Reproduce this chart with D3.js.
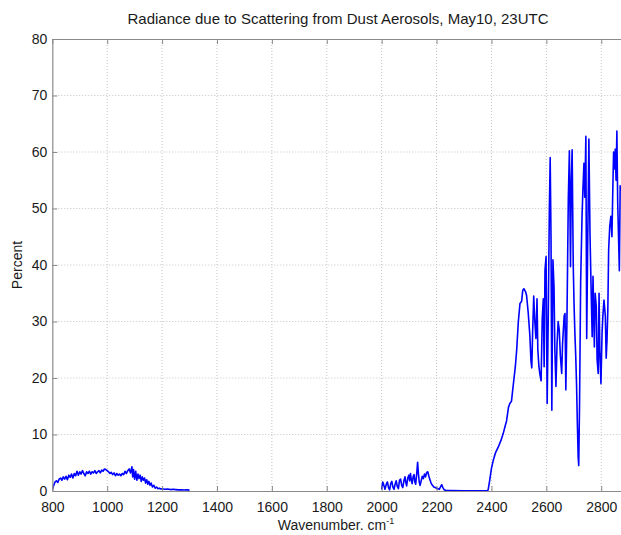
<!DOCTYPE html>
<html><head><meta charset="utf-8">
<script src="https://cdn.jsdelivr.net/npm/d3@7"></script>
<style>body{margin:0;background:#fff}svg{display:block}</style>
</head><body><svg id="chart" width="621" height="535"></svg>
<script>
const titleText = "Radiance due to Scattering from Dust Aerosols, May10, 23UTC";
const yLabel = "Percent";
const xTicks = [800,1000,1200,1400,1600,1800,2000,2200,2400,2600,2800];
const yTicks = [0,10,20,30,40,50,60,70,80];

// Long-wave window band (800-1300 cm-1)
const lwWN = [800,805,810,815,820,825,830,835,840,845,850,855,860,865,870,875,880,885,890,895,900,905,910,915,920,925,930,935,940,945,950,955,960,965,970,975,980,985,990,995,1000,1005,1010,1015,1020,1025,1030,1035,1040,1045,1050,1055,1060,1065,1070,1075,1080,1085,1090,1093,1096,1100,1104,1108,1112,1116,1120,1124,1128,1132,1136,1140,1144,1148,1152,1156,1160,1165,1170,1175,1180,1185,1190,1195,1200,1210,1220,1230,1240,1250,1260,1270,1280,1290,1300];
const lwPct = [0.2,1.0,1.6,1.8,1.5,2.1,2.3,1.9,2.5,2.1,2.6,2.0,2.8,2.4,3.0,2.3,3.1,2.7,3.5,2.8,3.4,3.0,3.6,3.1,2.7,3.4,3.1,3.5,3.0,3.4,3.2,3.6,3.1,3.4,3.6,3.2,3.7,3.5,3.9,3.8,3.6,3.4,3.1,3.3,2.9,3.2,2.7,3.1,2.8,3.0,2.7,3.1,2.9,3.5,3.1,3.6,3.9,3.2,4.3,2.5,3.8,2.1,3.5,1.9,3.0,2.2,2.8,1.7,2.5,1.9,2.3,1.4,2.0,1.2,1.7,1.0,1.4,0.7,1.0,0.5,0.7,0.4,0.5,0.35,0.4,0.3,0.35,0.25,0.3,0.25,0.2,0.22,0.18,0.2,0.15];

// Short-wave band (2000-2872 cm-1)
const swWN = [2000,2004,2008,2012,2017,2021,2025,2029,2033,2037,2041,2045,2049,2053,2057,2061,2065,2069,2073,2077,2081,2085,2088,2091,2095,2099,2102,2105,2108,2111,2115,2118,2121,2124,2128,2131,2134,2137,2140,2144,2148,2152,2156,2160,2164,2168,2172,2176,2180,2185,2190,2195,2200,2205,2210,2215,2219,2223,2228,2235,2250,2300,2350,2385,
  2388,2394,2400,2407,2415,2425,2435,2443,2450,2455,2462,2467,2473,2480,2487,2492,2498,2504,2510,2514,2518,2524,2528,2534,2540,2544,2547,2550,2554,2558,2562,2566,2569,2573,2577,2581,2585,2589,2592,2595,2599,2603,2607,2611,2614,2617,2620,2624,2628,2631,2635,2639,2643,2647,2651,2656,2659,2662,2665,2668,2671,2675,2680,2684,2688,2691,2694,2698,2701,2704,2707,2710,2713,2716,2718,2721,2725,2730,2733,2737,2740,2744,2747,2751,2755,2759,2763,2767,2770,2775,2778,2782,2785,2789,2792,2795,2799,2803,2806,2810,2815,2818,2821,2824,2827,2831,2835,2839,2842,2845,2848,2851,2854,2857,2860,2863,2866,2869,2872];
const swPct = [0.3,1.6,1.0,0.3,1.2,1.6,0.6,0.2,1.3,1.7,0.7,0.3,1.2,1.8,0.8,0.4,1.9,2.1,1.0,0.6,1.8,2.5,1.5,0.9,2.3,2.8,1.8,3.1,2.0,1.3,2.6,2.9,1.6,1.2,3.2,5.1,3.0,1.6,1.0,1.8,2.6,2.2,3.0,2.5,3.3,3.4,2.6,2.0,1.4,1.0,0.7,0.6,0.5,0.4,0.3,0.8,1.1,0.6,0.2,0.1,0.08,0.05,0.05,0.05,
  0.2,2.0,4.0,5.5,6.8,7.8,9.0,10.2,11.5,12.4,14.8,15.5,15.9,19,22,25,30,33.2,33.6,35.5,35.8,35.3,34.6,31.5,27.5,23,21.8,28,34.5,30,27,34,25,22,20.5,19.5,30.5,34,22,39,41.5,15.5,31,50,59,45,14.3,40.9,36,25,18.5,26,30,28.5,24,20.8,26,28.5,31,31.4,17.9,30,51.6,60.2,39.7,55,60.4,40,33,27.9,24,19,12,6,4.5,15.5,37,48.5,53,58,52,62.8,27,45,62.3,45.6,36,27.3,38,25.5,35,32.6,23.2,20.8,35,24.4,19,28,31,33.8,30.9,23.5,26.7,32,42.7,46.8,48.6,45,53,60,57,60.5,55,63.7,51,45,39,54,53];

const m = {left: 52.3, right: 621, top: 39, bottom: 491};
const svg = d3.select("#chart");
const x = d3.scaleLinear().domain([800, 2872]).range([m.left, m.right]);
const y = d3.scaleLinear().domain([0, 80]).range([m.bottom, m.top]);
const font = "'Liberation Sans', Arial, Helvetica, sans-serif";
const axisColor = "#8a8a8a";
const textColor = "#1a1a1a";

// grid
const grid = svg.append("g");
grid.selectAll("line.gx").data(xTicks.slice(1)).join("line")
  .attr("x1", d => x(d)).attr("x2", d => x(d))
  .attr("y1", m.top).attr("y2", m.bottom)
  .attr("stroke", "#c4c4c4").attr("stroke-width", 1).attr("stroke-dasharray", "1,2");
grid.selectAll("line.gy").data(yTicks.slice(1, -1)).join("line")
  .attr("x1", m.left).attr("x2", m.right)
  .attr("y1", d => y(d)).attr("y2", d => y(d))
  .attr("stroke", "#c4c4c4").attr("stroke-width", 1).attr("stroke-dasharray", "1,2");

// data lines
const line = d3.line().x(d => x(d[0])).y(d => y(d[1]));
svg.append("clipPath").attr("id", "clip").append("rect")
  .attr("x", m.left).attr("y", m.top - 2).attr("width", m.right - m.left).attr("height", m.bottom - m.top + 2);
const series = [d3.zip(lwWN, lwPct), d3.zip(swWN, swPct)];
svg.append("g").attr("clip-path", "url(#clip)").selectAll("path").data(series).join("path")
  .attr("d", line).attr("fill", "none").attr("stroke", "#0000ff")
  .attr("stroke-width", 1.6).attr("stroke-linejoin", "round");

// axes
const styleAxis = g => {
  g.select(".domain").attr("stroke", axisColor).attr("stroke-width", 1.2);
  g.selectAll(".tick line").attr("stroke", axisColor);
  g.selectAll(".tick text").attr("fill", textColor).attr("font-family", font).attr("font-size", 14);
};
svg.append("g").attr("transform", `translate(0,${m.bottom})`)
  .call(d3.axisBottom(x).tickValues(xTicks).tickFormat(d3.format("d")).tickSizeInner(-5).tickSizeOuter(0).tickPadding(11))
  .call(styleAxis);
svg.append("g").attr("transform", `translate(0,${m.top})`)
  .call(d3.axisTop(x).tickValues(xTicks).tickFormat("").tickSizeInner(-5).tickSizeOuter(0))
  .call(styleAxis);
svg.append("g").attr("transform", `translate(${m.left},0)`)
  .call(d3.axisLeft(y).tickValues(yTicks).tickFormat(d3.format("d")).tickSizeInner(-5).tickSizeOuter(0).tickPadding(5))
  .call(styleAxis);

// title and labels
svg.append("text").attr("x", 338).attr("y", 24).attr("text-anchor", "middle")
  .attr("font-family", font).attr("font-size", 15).attr("fill", textColor).text(titleText);
svg.append("text").attr("transform", "translate(22,265) rotate(-90)").attr("text-anchor", "middle")
  .attr("font-family", font).attr("font-size", 14).attr("fill", textColor).text(yLabel);
const xl = svg.append("text").attr("x", 336).attr("y", 530).attr("text-anchor", "middle")
  .attr("font-family", font).attr("font-size", 14).attr("fill", textColor);
xl.append("tspan").text("Wavenumber. cm");
xl.append("tspan").attr("dy", -6).attr("font-size", 9).text("-1");
</script></body></html>
